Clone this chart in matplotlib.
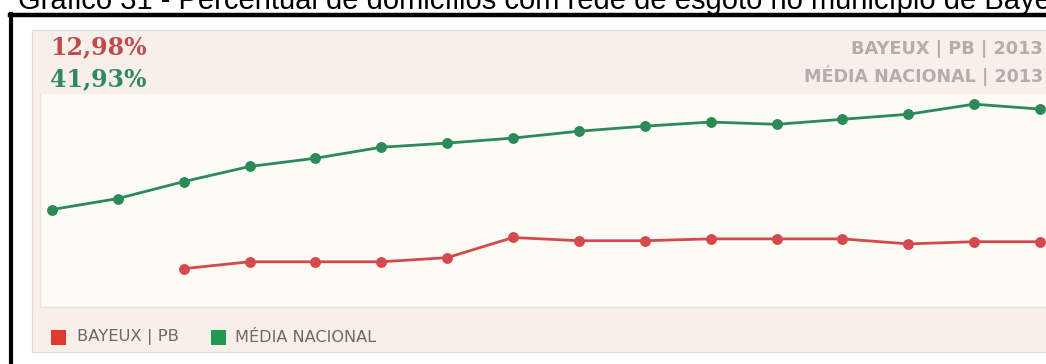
import matplotlib
matplotlib.use("Agg")
from matplotlib import pyplot as plt
from matplotlib.patches import Rectangle
from matplotlib.lines import Line2D

# series: share of households connected to the sewage network (%)
years_nacional = [1998, 1999, 2000, 2001, 2002, 2003, 2004, 2005,
                  2006, 2007, 2008, 2009, 2010, 2011, 2012, 2013]
media_nacional = [20.0, 22.4, 26.1, 29.4, 31.2, 33.6, 34.5, 35.6,
                  37.1, 38.2, 39.1, 38.6, 39.7, 40.8, 43.0, 41.93]

years_bayeux = [2000, 2001, 2002, 2003, 2004, 2005, 2006,
                2007, 2008, 2009, 2010, 2011, 2012, 2013]
bayeux = [7.1, 8.6, 8.6, 8.6, 9.5, 13.9, 13.2,
          13.2, 13.6, 13.6, 13.6, 12.5, 12.98, 12.98]

title = "Gráfico 31 - Percentual de domicílios com rede de esgoto no município de Bayeux"
label_bayeux = "BAYEUX | PB"
label_nacional = "MÉDIA NACIONAL"
ref_year = "2013"

W, H = 1046, 364
RED = "#d44a4c"
GREEN = "#2b8a58"

fig = plt.figure(figsize=(W / 100, H / 100), dpi=100)
fig.patch.set_facecolor("white")


def fx(x):
    return x / W


def fy(y):
    return 1 - y / H


def pct(v):
    return ("%.2f%%" % v).replace(".", ",")


#title line, partly cut off by the top edge
fig.text(fx(18), fy(9), title, fontsize=21, family="Liberation Sans",
         va="baseline", ha="left", color="black")

#black frame (top and left sides)
fig.add_artist(Line2D([fx(10), fx(1100)], [fy(15), fy(15)], color="black", lw=3.2))
fig.add_artist(Line2D([fx(10.5), fx(10.5)], [fy(13.5), fy(370)], color="black", lw=3.0))

#widget panel, kept behind the plot area
fig.add_artist(Rectangle((fx(32), fy(352)), fx(1100 - 32), (352 - 30) / H,
                         facecolor="#f8efeb", edgecolor="#e2d9d5", lw=0.8, zorder=-5))

#header values
fig.text(fx(50), fy(47), pct(bayeux[-1]), fontsize=17, family="DejaVu Serif",
         weight="bold", color="#c24a4a", va="center", ha="left")
fig.text(fx(50), fy(79), pct(media_nacional[-1]), fontsize=17, family="DejaVu Serif",
         weight="bold", color="#2f8a5a", va="center", ha="left")

fig.text(fx(1043), fy(49), label_bayeux + " | " + ref_year, fontsize=12.8,
         family="DejaVu Sans", weight="bold", color="#b3aeab", va="center", ha="right")
fig.text(fx(1043), fy(76), label_nacional + " | " + ref_year, fontsize=12.6,
         family="DejaVu Sans", weight="bold", color="#b3aeab", va="center", ha="right")

#plot area
ax = fig.add_axes([fx(40), fy(307), fx(1070 - 40), (307 - 94) / H])
ax.set_zorder(2)
ax.set_facecolor("#fdfbf6")
for side in ["top", "right"]:
    ax.spines[side].set_visible(False)
for side in ["left", "bottom"]:
    ax.spines[side].set_color("#e8e1dc")
    ax.spines[side].set_linewidth(1.0)
ax.set_xticks([])
ax.set_yticks([])

ax.plot(years_nacional, media_nacional, color=GREEN, lw=2.0, marker="o",
        markersize=6.8, markerfacecolor=GREEN, markeredgecolor=GREEN)
ax.plot(years_bayeux, bayeux, color=RED, lw=2.0, marker="o",
        markersize=6.8, markerfacecolor=RED, markeredgecolor=RED)

ax.set_xlim(1997.818, 2013.455)
ax.set_ylim(-1.27, 45.22)

#legend at the bottom
fig.add_artist(Rectangle((fx(51), fy(345)), fx(15), 15 / H,
                         facecolor="#e0392f", edgecolor="none"))
fig.text(fx(77), fy(337), label_bayeux, fontsize=11.8, family="DejaVu Sans",
         color="#6a6a6a", va="center", ha="left")
fig.add_artist(Rectangle((fx(211), fy(345)), fx(15), 15 / H,
                         facecolor="#1f9a50", edgecolor="none"))
fig.text(fx(235), fy(337), label_nacional, fontsize=11.6, family="DejaVu Sans",
         color="#6a6a6a", va="center", ha="left")

fig.savefig("out.png", dpi=100, facecolor=fig.get_facecolor())
